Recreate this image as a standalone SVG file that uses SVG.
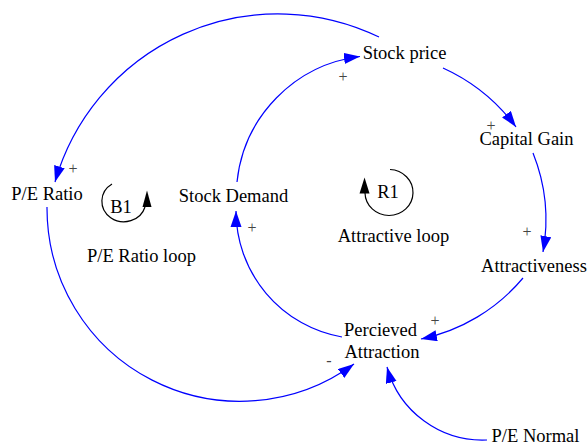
<svg xmlns="http://www.w3.org/2000/svg" width="587" height="444" viewBox="0 0 587 444">
  <defs>
    <style>
      text { font-family: 'Liberation Serif', 'Times New Roman', Times, serif; }
      .lbl { font-size: 18.5px; fill: #000; text-anchor: middle; }
      .pol { font-size: 16px; fill: #444; text-anchor: middle; }
      .link { fill: none; stroke: #0000ff; stroke-width: 1.2; }
      .loop { fill: none; stroke: #000; stroke-width: 1.2; }
    </style>
    <marker id="arrow" markerUnits="userSpaceOnUse" markerWidth="18" markerHeight="12" refX="16" refY="5.5" orient="auto">
      <path d="M0,0 L16,5.5 L0,11 Z" fill="#0000ff"/>
    </marker>
  </defs>
  <rect width="587" height="444" fill="#fff"/>

  <!-- causal links -->
  <g id="connectors">
    <path class="link" marker-end="url(#arrow)" d="M379,37 A232,232 0 0,0 55,182"/>
    <path class="link" marker-end="url(#arrow)" d="M237,182 A141,141 0 0,1 360,56.5"/>
    <path class="link" marker-end="url(#arrow)" d="M443,68 A187,187 0 0,1 516,127"/>
    <path class="link" marker-end="url(#arrow)" d="M533,153 A180,180 0 0,1 543,252"/>
    <path class="link" marker-end="url(#arrow)" d="M523,278 A181,181 0 0,1 421,339"/>
    <path class="link" marker-end="url(#arrow)" d="M342,337 A128,128 0 0,1 236,211"/>
    <path class="link" marker-end="url(#arrow)" d="M47,207 A193,193 0 0,0 354,364"/>
    <path class="link" marker-end="url(#arrow)" d="M487,440 A99,99 0 0,1 387,367"/>
    <!-- polarities -->
    <text class="pol" font-family="Liberation Serif, serif" x="73" y="174">+</text>
    <text class="pol" font-family="Liberation Serif, serif" x="252" y="233">+</text>
    <text class="pol" font-family="Liberation Serif, serif" x="343" y="82">+</text>
    <text class="pol" font-family="Liberation Serif, serif" x="491" y="131">+</text>
    <text class="pol" font-family="Liberation Serif, serif" x="527" y="237">+</text>
    <text class="pol" font-family="Liberation Serif, serif" x="435" y="326">+</text>
    <text class="pol" font-family="Liberation Serif, serif" x="329" y="366">-</text>
  </g>

  <g id="stock-price"><text class="lbl" font-family="Liberation Serif, serif" x="404.5" y="59">Stock price</text></g>
  <g id="capital-gain"><text class="lbl" font-family="Liberation Serif, serif" x="526.5" y="144.5">Capital Gain</text></g>
  <g id="attractiveness"><text class="lbl" font-family="Liberation Serif, serif" x="534" y="272">Attractiveness</text></g>
  <g id="pe-ratio"><text class="lbl" font-family="Liberation Serif, serif" x="47" y="200">P/E Ratio</text></g>
  <g id="stock-demand"><text class="lbl" font-family="Liberation Serif, serif" x="233.5" y="201.5">Stock Demand</text></g>
  <g id="percieved-attraction">
    <text class="lbl" font-family="Liberation Serif, serif" x="380.5" y="336">Percieved</text>
    <text class="lbl" font-family="Liberation Serif, serif" x="382" y="358">Attraction</text>
  </g>
  <g id="pe-normal"><text class="lbl" font-family="Liberation Serif, serif" x="535.5" y="442">P/E Normal</text></g>

  <!-- loop identifiers -->
  <g id="loop-b1">
    <path class="loop" d="M112,184 A22,20.5 0 1,0 145,207"/>
    <path d="M147,190.5 L151.5,207 L142.5,207 Z" fill="#000"/>
    <text class="lbl" font-family="Liberation Serif, serif" x="121" y="213">B1</text>
    <text class="lbl" font-family="Liberation Serif, serif" x="141.5" y="262">P/E Ratio loop</text>
  </g>
  <g id="loop-r1">
    <path class="loop" d="M390,169.5 A24,23 0 1,1 365,193"/>
    <path d="M364.5,177.5 L369.5,193.5 L359.5,193.5 Z" fill="#000"/>
    <text class="lbl" font-family="Liberation Serif, serif" x="388" y="198">R1</text>
    <text class="lbl" font-family="Liberation Serif, serif" x="393.5" y="242">Attractive loop</text>
  </g>
</svg>
